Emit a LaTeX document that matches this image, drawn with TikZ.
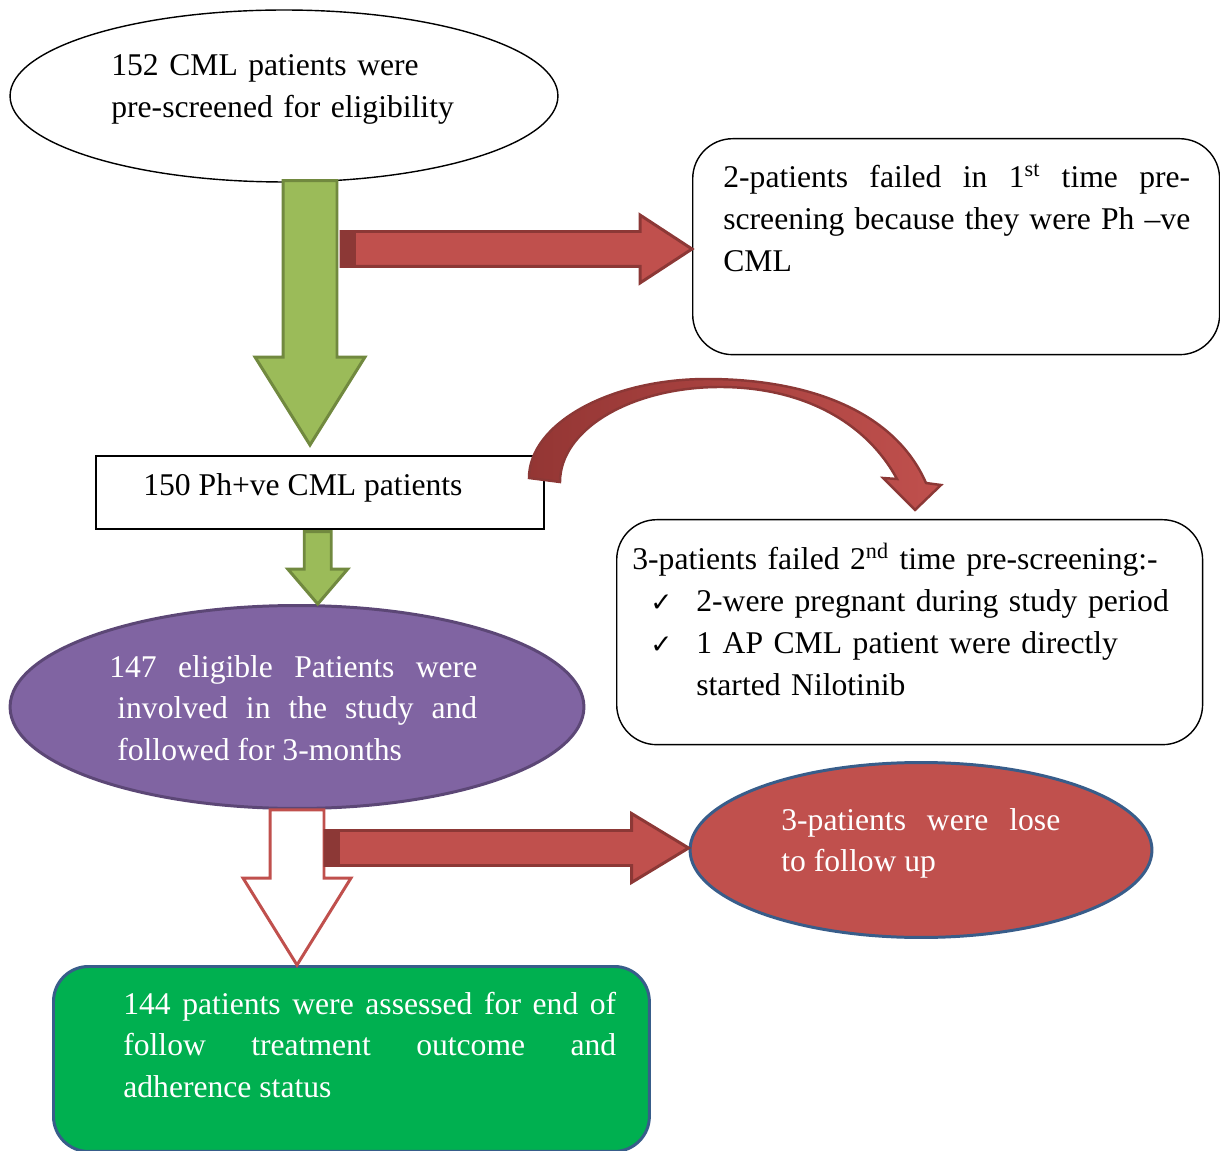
\documentclass[tikz,border=0pt]{standalone}
\usepackage{fontspec}
\setmainfont{Liberation Serif}
\newfontfamily\symfont{DejaVu Sans}
\usetikzlibrary{shapes.geometric,calc}

\definecolor{olivefill}{HTML}{9BBB59}
\definecolor{olivedraw}{HTML}{71893F}
\definecolor{redfill}{HTML}{C0504D}
\definecolor{reddraw}{HTML}{8C3836}
\definecolor{reddark}{HTML}{943634}
\definecolor{purplefill}{HTML}{8064A2}
\definecolor{purpledraw}{HTML}{5C4776}
\definecolor{bluedraw}{HTML}{385D8A}
\definecolor{greenfill}{HTML}{00B050}

\newcommand{\chk}{{\symfont\fontsize{15}{20}\selectfont ✓}}

% block arrows: style, from, to, shaft half width, head half width, head length
\newcommand{\blockdown}[6]{%
  \draw[#1] let \p1=(#2), \p2=(#3) in
    (\x1-#4,\y1) -- (\x1+#4,\y1) -- (\x1+#4,\y2+#6) -- (\x1+#5,\y2+#6)
    -- (\x1,\y2) -- (\x1-#5,\y2+#6) -- (\x1-#4,\y2+#6) -- cycle;}
\newcommand{\blockright}[6]{%
  \draw[#1] let \p1=(#2), \p2=(#3) in
    (\x1,\y1+#4) -- (\x2-#6,\y1+#4) -- (\x2-#6,\y1+#5) -- (\x2,\y1)
    -- (\x2-#6,\y1-#5) -- (\x2-#6,\y1-#4) -- (\x1,\y1-#4) -- cycle;
  \fill[reddraw] let \p1=(#2) in (\x1,\y1+#4) rectangle (\x1+0.3cm,\y1-#4);}

\tikzset{
  every node/.style={font=\fontsize{18}{23.8}\selectfont},
  txt/.style={inner sep=0pt, anchor=base west, align=left},
  just/.style={txt, align=justify},
  roundbox/.style={draw, rounded corners=0.8cm, anchor=north west, inner sep=0pt, line width=0.8pt},
  olivearrow/.style={fill=olivefill, draw=olivedraw, line width=1.7pt},
  redarrow/.style={fill=redfill, draw=reddraw, line width=1.7pt},
  hollowarrow/.style={fill=white, draw=redfill, line width=1.7pt},
  curvearrow/.style={left color=reddark, right color=redfill, draw=reddraw, line width=1.4pt}
}

\begin{document}
\begin{tikzpicture}[x=0.02cm, y=-0.02cm]
\useasboundingbox (0,0) rectangle (1220,1151);

% boxes
\node[ellipse, draw, line width=0.8pt, minimum width=10.96cm, minimum height=3.44cm] (pre) at (284,96) {};
\node[txt, text width=8cm] (pretxt) at (111,76) {152 CML patients were\\pre-screened for eligibility};

\node[roundbox, minimum width=10.54cm, minimum height=4.32cm] (fail1) at (692,138) {};
\node[just, text width=9.34cm] (fail1txt) at (723,188)
  {2-patients failed in 1\textsuperscript{st} time pre-\linebreak screening because they were Ph –ve\linebreak CML};

\node[draw, anchor=north west, line width=0.9pt, minimum width=8.96cm, minimum height=1.46cm] (ph) at (95,455) {};
\node[txt] (phtxt) at (143,496) {150 Ph+ve CML patients};

\node[roundbox, minimum width=11.72cm, minimum height=4.5cm] (fail2) at (616,519) {};
\node[txt, text width=11cm] (fail2txt) at (632,570)
  {3-patients failed 2\textsuperscript{nd} time pre-screening:-\\
   \makebox[1.28cm][l]{\hspace*{0.36cm}\chk}2-were pregnant during study period\\
   \makebox[1.28cm][l]{\hspace*{0.36cm}\chk}1 AP CML patient were directly\\
   \makebox[1.28cm][l]{}started Nilotinib};

\node[ellipse, fill=purplefill, draw=purpledraw, line width=1.7pt, minimum width=11.48cm, minimum height=4.06cm] (study) at (297,707) {};
\node[just, text width=7.2cm, text=white] (studytxt) at (117,677)
  {\hspace*{-0.16cm}147 eligible Patients were\linebreak involved in the study and\linebreak followed for 3-months};

\node[ellipse, fill=redfill, draw=bluedraw, line width=1.7pt, minimum width=9.24cm, minimum height=3.5cm] (lost) at (921,850) {};
\node[just, text width=5.58cm, text=white] (losttxt) at (781,830)
  {3-patients were lose\linebreak to follow up};

\node[roundbox, rounded corners=0.7cm, fill=greenfill, draw=bluedraw, line width=1.7pt, minimum width=11.92cm, minimum height=3.7cm] (assess) at (52,965) {};
\node[just, text width=9.86cm, text=white] (assesstxt) at (123,1014)
  {144 patients were assessed for end of\linebreak follow treatment outcome and\linebreak adherence status};

% arrows
\coordinate (g1s) at ($(pre.south)+(26,-2)$);
\coordinate (g1e) at ($(ph.north)+(0,-10)$);
\blockdown{olivearrow}{g1s}{g1e}{0.54cm}{1.1cm}{1.76cm}
\coordinate (r1s) at (341,249);
\blockright{redarrow}{r1s}{fail1.west}{0.35cm}{0.68cm}{1.04cm}
\coordinate (g2s) at ($(ph.south)+(-2,2)$);
\blockdown{olivearrow}{g2s}{study.north}{0.27cm}{0.6cm}{0.7cm}
\blockdown{hollowarrow}{study.south}{assess.north}{0.54cm}{1.08cm}{1.74cm}
\coordinate (r2s) at (325,848);
\blockright{redarrow}{r2s}{lost.west}{0.35cm}{0.69cm}{1.14cm}

% curved arrow from ph to fail2
\draw[curvearrow] (560,482) .. controls (560,429) and (632,387) .. (720,387)
  .. controls (800,387) and (865,420) .. (897,479) -- (883,478) -- (915,510)
  -- (941,485) -- (926,483) .. controls (895,412) and (810,379) .. (707,379)
  .. controls (609,379) and (529,424) .. (529,478) -- cycle;
\end{tikzpicture}
\end{document}
